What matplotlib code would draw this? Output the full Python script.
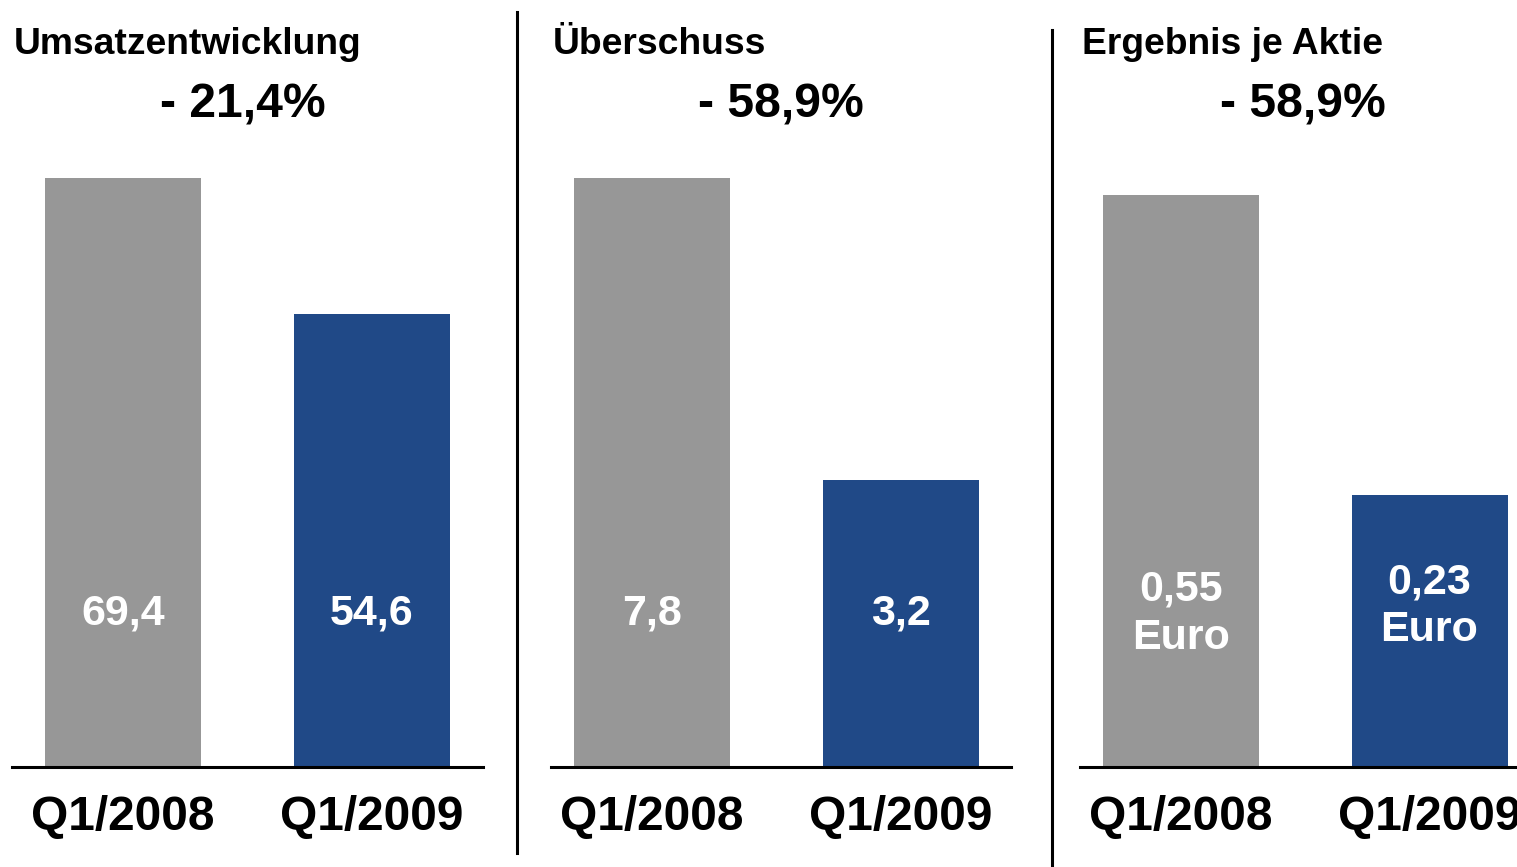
import matplotlib
matplotlib.use("Agg")
import matplotlib.pyplot as plt

plt.rcParams['font.family'] = ['Liberation Sans', 'DejaVu Sans']
plt.rcParams['font.weight'] = 'bold'

# ---- data ----
titles = ["Umsatzentwicklung", "Überschuss", "Ergebnis je Aktie"]
changes = ["- 21,4%", "- 58,9%", "- 58,9%"]
categories = ["Q1/2008", "Q1/2009"]
value_labels_1 = ["69,4", "54,6"]
value_labels_2 = ["7,8", "3,2"]
value_labels_3 = ["0,55\nEuro", "0,23\nEuro"]
# relative bar heights as drawn in the picture (tallest bar = 100)
bar_heights_1 = [100.0, 76.9]
bar_heights_2 = [100.0, 48.7]
bar_heights_3 = [97.1, 46.2]

colors = ["#979797", "#204987"]

W, H = 1517, 867
fig = plt.figure(figsize=(W / 100, H / 100), dpi=100)


def fx(px):
    return px / W


def fy(py):
    return 1 - py / H


base_y = 767
top_y = 178
spacing = 248.5
bar_w = 156 / spacing

panels = [
    # (axis left px, axis right px, center of first bar px)
    (12, 483, 123),
    (551, 1011, 652),
    (1080, 1517, 1181),
]
heights = [bar_heights_1, bar_heights_2, bar_heights_3]
vlabels = [value_labels_1, value_labels_2, value_labels_3]
label_y = [[26.0, 26.0], [26.0, 26.0], [26.0, 27.3]]

for i, (l, r, c0) in enumerate(panels):
    ax = fig.add_axes([fx(l), fy(base_y), fx(r - l), (base_y - top_y) / H])
    xs = list(range(len(categories)))
    ax.bar(xs, heights[i], width=bar_w, color=colors, zorder=1)
    ax.set_xlim((l - c0) / spacing, (r - c0) / spacing)
    ax.set_ylim(0, 100)
    ax.axhline(0, color="black", lw=2.2, zorder=3, clip_on=False)
    for s in ax.spines.values():
        s.set_visible(False)
    ax.set_yticks([])
    ax.set_xticks(xs)
    ax.set_xticklabels(categories, fontsize=34.5, fontweight='bold')
    ax.tick_params(axis='x', length=0, pad=20)
    for x, lab, yy in zip(xs, vlabels[i], label_y[i]):
        ax.text(x, yy, lab, ha='center', va='center', color='white',
                fontsize=31, fontweight='bold', linespacing=1.26)
    ax.patch.set_visible(False)

# titles and change labels
title_x = [14, 553, 1082]
change_x = [243, 781, 1303]
for t, tx, ch, cx in zip(titles, title_x, changes, change_x):
    fig.text(fx(tx), fy(45), t, ha='left', va='center', fontsize=26.8,
             fontweight='bold', color='black')
    fig.text(fx(cx), fy(105), ch, ha='center', va='center', fontsize=34.7,
             fontweight='bold', color='black')

# separators
fig.add_artist(plt.Line2D([fx(517), fx(517)], [fy(12), fy(853)], color='black', lw=2.2))
fig.add_artist(plt.Line2D([fx(1052), fx(1052)], [fy(30), fy(867)], color='black', lw=2.2))

fig.savefig("out.png", dpi=100)
